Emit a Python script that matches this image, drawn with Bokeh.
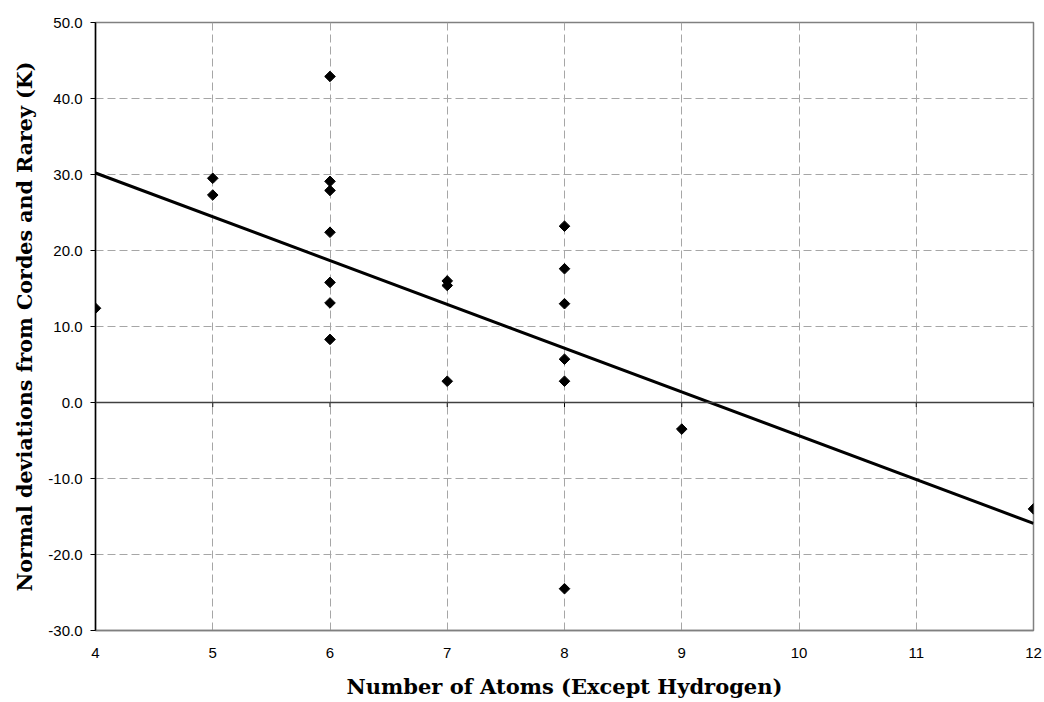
import math
from bokeh.plotting import figure
from bokeh.models import Range1d, FixedTicker, PrintfTickFormatter, Span
from bokeh.embed import file_html
from bokeh.resources import INLINE

# Data
atoms = [4, 5, 5, 6, 6, 6, 6, 6, 6, 6, 7, 7, 7, 8, 8, 8, 8, 8, 8, 9, 12]
deviations = [12.4, 29.5, 27.3, 42.9, 29.1, 27.9, 22.4, 15.8, 13.1, 8.3,
              16.0, 15.4, 2.8, 23.2, 17.6, 13.0, 5.7, 2.8, -24.5, -3.5, -14.0]
trend_x = [4, 12]
trend_y = [30.2, -15.9]
x_ticks = [4, 5, 6, 7, 8, 9, 10, 11, 12]
y_ticks = [-30, -20, -10, 0, 10, 20, 30, 40, 50]

p = figure(width=1044, height=702, output_backend="svg", toolbar_location=None,
           x_range=Range1d(4, 12), y_range=Range1d(-30, 50),
           min_border_left=95, min_border_right=11, min_border_top=22, min_border_bottom=72)
p.background_fill_color = "white"
p.border_fill_color = "white"
p.outline_line_color = "#808080"
p.outline_line_width = 1.5

# grids
for g in (p.xgrid, p.ygrid):
    g.grid_line_color = "#a6a6a6"
    g.grid_line_dash = "8 4"
    g.grid_line_width = 1
p.xgrid.ticker = FixedTicker(ticks=x_ticks)
p.ygrid.ticker = FixedTicker(ticks=y_ticks)

# x axis
xa = p.xaxis[0]
xa.ticker = FixedTicker(ticks=x_ticks)
xa.axis_line_color = "#808080"
xa.axis_line_width = 1.5
xa.major_tick_line_color = None
xa.minor_tick_line_color = None
xa.major_label_text_font = "Liberation Sans"
xa.major_label_text_font_size = "15px"
xa.major_label_text_color = "black"
xa.major_label_standoff = 11
xa.axis_label = "Number of Atoms (Except Hydrogen)"
xa.axis_label_text_font = "DejaVu Serif"
xa.axis_label_text_font_style = "bold"
xa.axis_label_text_font_size = "21px"
xa.axis_label_text_color = "black"
xa.axis_label_standoff = 13

# y axis
ya = p.yaxis[0]
ya.ticker = FixedTicker(ticks=y_ticks)
ya.formatter = PrintfTickFormatter(format="%.1f")
ya.axis_line_color = "black"
ya.axis_line_width = 1.5
ya.major_tick_line_color = "black"
ya.major_tick_out = 5
ya.major_tick_in = 0
ya.minor_tick_line_color = None
ya.major_label_text_font = "Liberation Sans"
ya.major_label_text_font_size = "15px"
ya.major_label_text_color = "black"
ya.major_label_standoff = 8
ya.axis_label = "Normal deviations from Cordes and Rarey (K)"
ya.axis_label_text_font = "DejaVu Serif"
ya.axis_label_text_font_style = "bold"
ya.axis_label_text_font_size = "20.6px"
ya.axis_label_text_color = "black"
ya.axis_label_standoff = 8

# zero line with tick marks
p.add_layout(Span(location=0, dimension="width", line_color="#404040", line_width=1.5))
p.segment(x0=x_ticks, y0=[0] * len(x_ticks), x1=x_ticks, y1=[-0.6] * len(x_ticks),
          line_color="black", line_width=1)

# trend line
p.line(trend_x, trend_y, line_color="black", line_width=3)

# points
p.scatter(atoms, deviations, marker="square", angle=math.pi / 4, size=7.5,
          fill_color="black", line_color="black")

open("out.html", "w").write(file_html(p, INLINE))
